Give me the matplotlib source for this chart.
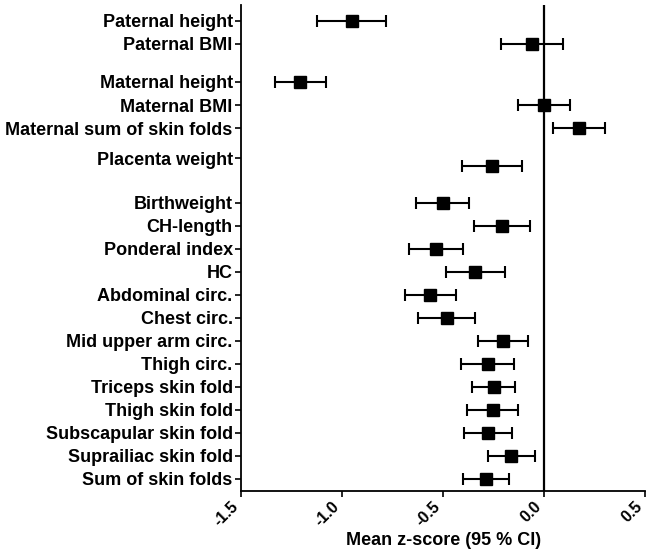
import matplotlib
matplotlib.use("Agg")
import matplotlib.pyplot as plt

plt.rcParams['font.family'] = ['Liberation Sans', 'DejaVu Sans']
plt.rcParams['font.weight'] = 'bold'

# data, top to bottom
labels = [
    "Paternal height", "Paternal BMI",
    "Maternal height", "Maternal BMI", "Maternal sum of skin folds",
    "Placenta weight",
    "Birthweight", "CH-length", "Ponderal index", "HC", "Abdominal circ.",
    "Chest circ.", "Mid upper arm circ.", "Thigh circ.", "Triceps skin fold",
    "Thigh skin fold", "Subscapular skin fold", "Suprailiac skin fold",
    "Sum of skin folds",
]
mean_z = [-0.953, -0.061, -1.207, -0.003, 0.171, -0.257,
          -0.502, -0.209, -0.535, -0.340, -0.564, -0.483, -0.202,
          -0.280, -0.249, -0.255, -0.279, -0.162, -0.287]
ci_low = [-1.126, -0.215, -1.333, -0.131, 0.042, -0.405,
          -0.633, -0.346, -0.668, -0.486, -0.690, -0.622, -0.326,
          -0.411, -0.355, -0.381, -0.395, -0.279, -0.403]
ci_high = [-0.783, 0.093, -1.081, 0.129, 0.299, -0.111,
           -0.371, -0.071, -0.401, -0.192, -0.438, -0.340, -0.081,
           -0.149, -0.144, -0.127, -0.157, -0.046, -0.174]

# layout: row positions (groups separated by gaps)
tick_pos = [19.9, 18.9, 17.25, 16.24, 15.24, 13.92] + list(range(12, -1, -1))
mark_pos = list(tick_pos)
mark_pos[5] = 13.59   # placenta marker sits a little below its label in the original

err_lo = [m - l for m, l in zip(mean_z, ci_low)]
err_hi = [h - m for m, h in zip(mean_z, ci_high)]

fig = plt.figure(figsize=(6.52, 5.55), dpi=100)
ax = fig.add_axes([0.3696, 0.1153, 0.62, 0.8757])

ax.axvline(0, color="black", lw=1.6, zorder=1)
ax.errorbar(mean_z, mark_pos, xerr=[err_lo, err_hi], fmt="s", color="black",
            ms=8, ecolor="black", elinewidth=1.5, capsize=4.5, capthick=1.5, zorder=3)

ax.set_xlim(-1.5, 0.5)
ax.set_ylim(-0.54, 20.59)
ax.set_xticks([-1.5, -1.0, -0.5, 0.0, 0.5])
ax.set_xticklabels(["-1.5", "-1.0", "-0.5", "0.0", "0.5"], rotation=45,
                   ha="right", va="top", fontsize=11.5, fontweight="bold")
ax.set_yticks(tick_pos)
ax.set_yticklabels(labels, fontsize=13, fontweight="bold")
ax.tick_params(axis="both", direction="out", length=4.5, width=1.2, color="black")
ax.tick_params(axis="y", pad=1.5)
ax.tick_params(axis="x", pad=1)
for s in ["top", "right"]:
    ax.spines[s].set_visible(False)
for s in ["left", "bottom"]:
    ax.spines[s].set_linewidth(1.3)

ax.set_xlabel("Mean z-score (95 % CI)", fontsize=13, fontweight="bold", labelpad=2)

fig.savefig("out.png", dpi=100)
